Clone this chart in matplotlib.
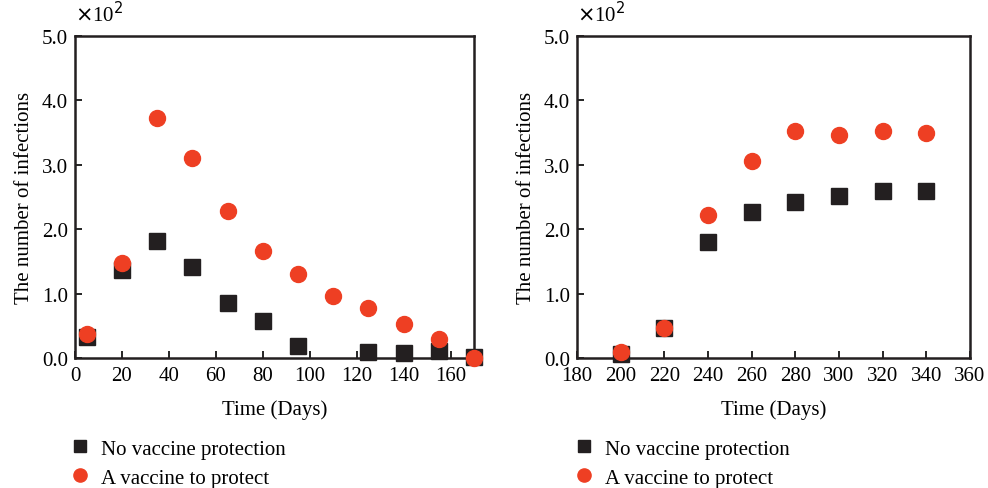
import matplotlib.pyplot as plt
from matplotlib.lines import Line2D

# left panel: first period
days_a = [5, 20, 35, 50, 65, 80, 95, 125, 140, 155, 170]
no_vaccine_a = [0.33, 1.37, 1.82, 1.41, 0.86, 0.58, 0.18, 0.09, 0.08, 0.11, 0.01]
days_a_red = [5, 20, 35, 50, 65, 80, 95, 110, 125, 140, 155, 170]
vaccine_a = [0.38, 1.47, 3.73, 3.11, 2.29, 1.66, 1.31, 0.96, 0.78, 0.53, 0.29, 0.0]

# right panel: second period
days_b = [200, 220, 240, 260, 280, 300, 320, 340]
no_vaccine_b = [0.06, 0.47, 1.80, 2.26, 2.42, 2.51, 2.59, 2.59]
vaccine_b = [0.09, 0.47, 2.22, 3.06, 3.53, 3.46, 3.52, 3.50]

y_ticks = [0.0, 1.0, 2.0, 3.0, 4.0, 5.0]
x_ticks_a = list(range(0, 161, 20))
x_ticks_b = list(range(180, 361, 20))

BLACK = "#231f20"
RED = "#ee3f23"
FS = 15

plt.rcParams.update({
    "font.family": ["Liberation Serif", "DejaVu Serif"],
    "font.size": FS,
})

fig = plt.figure(figsize=(9.88, 4.89), dpi=100)
ax1 = fig.add_axes([0.0759, 0.2658, 0.4039, 0.6585])
ax2 = fig.add_axes([0.5840, 0.2658, 0.3978, 0.6585])


def setup(ax, xlim, xticks):
    ax.set_xlim(*xlim)
    ax.set_ylim(0, 5.0)
    ax.set_xticks(xticks)
    ax.set_yticks(y_ticks)
    ax.set_yticklabels([f"{v:.1f}" for v in y_ticks])
    ax.tick_params(direction="in", length=5, width=1.2, labelsize=FS)
    ax.tick_params(axis="x", pad=6)
    ax.tick_params(axis="y", pad=5)
    for spine in ax.spines.values():
        spine.set_linewidth(1.8)
        spine.set_color(BLACK)
    ax.set_xlabel("Time (Days)", fontsize=FS, labelpad=10)
    ax.set_ylabel("The number of infections", fontsize=FS, labelpad=6)
    ax.text(0.0, 1.03, r"$\times$10$^2$", transform=ax.transAxes,
            ha="left", va="bottom", fontsize=FS)


setup(ax1, (0, 170), x_ticks_a)
ax1.plot(days_a, no_vaccine_a, "s", color=BLACK, markersize=11, clip_on=False, zorder=3)
ax1.plot(days_a_red, vaccine_a, "o", color=RED, markersize=11.5, clip_on=False, zorder=4)

setup(ax2, (180, 360), x_ticks_b)
ax2.plot(days_b, no_vaccine_b, "s", color=BLACK, markersize=11, clip_on=False, zorder=3)
ax2.plot(days_b, vaccine_b, "o", color=RED, markersize=11.5, clip_on=False, zorder=4)

handles = [
    Line2D([0], [0], marker="s", color="none", markerfacecolor=BLACK, markeredgecolor=BLACK, markersize=9),
    Line2D([0], [0], marker="o", color="none", markerfacecolor=RED, markeredgecolor=RED, markersize=9.5),
]
labels = ["No vaccine protection", "A vaccine to protect"]
for x0 in (0.056, 0.566):
    fig.legend(handles, labels, loc="upper left", bbox_to_anchor=(x0, 0.13),
               frameon=False, fontsize=FS, handlelength=1.0, handletextpad=0.5,
               labelspacing=0.45, borderpad=0.2)

fig.savefig("out.png", dpi=100)
